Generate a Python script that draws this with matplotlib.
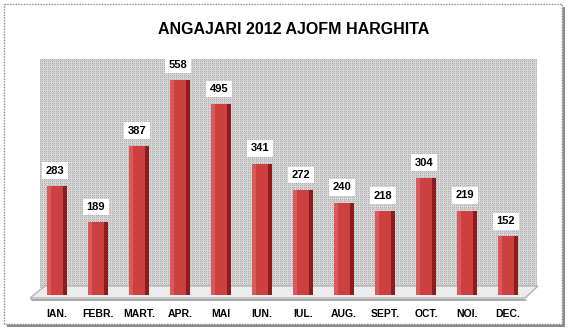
import numpy as np
import matplotlib
matplotlib.use("Agg")
import matplotlib.pyplot as plt
from matplotlib.patches import Rectangle, Polygon
from matplotlib import transforms

months = ["IAN.", "FEBR.", "MART.", "APR.", "MAI", "IUN.", "IUL.", "AUG.", "SEPT.", "OCT.", "NOI.", "DEC."]
values = [283, 189, 387, 558, 495, 341, 272, 240, 218, 304, 219, 152]
title = "ANGAJARI 2012 AJOFM HARGHITA"

W, H = 569, 335
fig = plt.figure(figsize=(W / 100, H / 100), dpi=100)
fam = ["Liberation Sans Narrow", "Liberation Sans", "DejaVu Sans"]

# background decoration axes in pixel coordinates
bg = fig.add_axes([0, 0, 1, 1])
bg.set_xlim(0, W)
bg.set_ylim(H, 0)
bg.axis("off")
bg.add_patch(Rectangle((7, 7), 558, 320, facecolor="#8c8c8c", edgecolor="none"))
bg.add_patch(Rectangle((4, 4), 558, 320, facecolor="white", edgecolor="#8a8a8a", lw=1, linestyle=(0, (1, 1))))

# dotted wall texture
wx0, wx1, wy0, wy1 = 40, 537, 59, 288
tw, th = wx1 - wx0, wy1 - wy0
yy, xx = np.mgrid[0:th, 0:tw]
tex = np.where(((xx % 2) == 0) & ((yy % 2) == 0), 0.68, 0.84)
tex = np.where(((xx % 4) == 1) & ((yy % 4) == 1), 0.72, tex)
bg.imshow(tex, cmap="gray", vmin=0, vmax=1, extent=(wx0, wx1, wy1, wy0), interpolation="nearest", zorder=1)
bg.set_xlim(0, W)
bg.set_ylim(H, 0)
# floor
bg.add_patch(Polygon([(30, 299), (525, 299), (527, 301), (32, 301)], closed=True, facecolor="#a8a8a8", edgecolor="none", zorder=2))
bg.add_patch(Polygon([(45, 286), (538, 286), (525, 298), (30, 298)], closed=True, facecolor="#ececec", edgecolor="#b4b4b4", lw=1, zorder=3))

bg.text(294, 30, title, ha="center", va="center", fontsize=11.5, fontweight="bold", family=fam, color="black")

# bar axes
ax = fig.add_axes([36.5 / W, (H - 295) / H, 492 / W, 235 / H])
ax.patch.set_alpha(0)
x = np.arange(len(values))
ax.set_xlim(-0.5, len(values) - 0.5)
ax.set_ylim(0, 235 / 0.385)
bw = 0.51
ax.bar(x, values, width=bw, color="#cc4040", edgecolor="none", zorder=3)
ax.bar(x + bw / 2 - 0.06, values, width=0.12, color="#8e1c1c", edgecolor="none", zorder=4)
ax.bar(x - bw / 2 + 0.05, values, width=0.1, color="#d85a5a", edgecolor="none", zorder=4)

for xi, v in zip(x, values):
    ax.annotate(str(v), (xi - 0.05, v), xytext=(0, 11), textcoords="offset points",
                ha="center", va="center", fontsize=8, fontweight="bold", family=fam,
                bbox=dict(boxstyle="square,pad=0.3", facecolor="white", edgecolor="none"), zorder=6)

ax.set_xticks(x)
ax.set_xticklabels(months, fontsize=7.5, fontweight="bold", family=fam)
off = transforms.ScaledTranslation(-5 / 100, 0, fig.dpi_scale_trans)
for lab in ax.get_xticklabels():
    lab.set_transform(lab.get_transform() + off)
ax.tick_params(axis="x", length=0, pad=10)
ax.set_yticks([])
for s in ax.spines.values():
    s.set_visible(False)

fig.savefig("out.png", dpi=100)
